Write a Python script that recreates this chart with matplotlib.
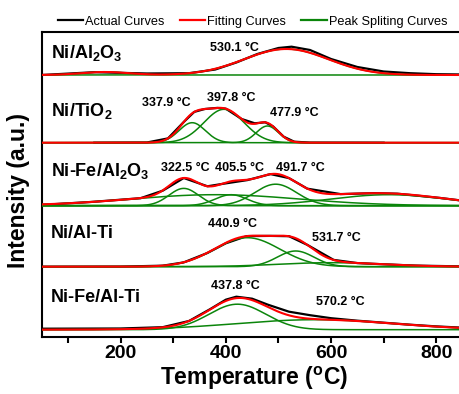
import numpy as np
import matplotlib.pyplot as plt
from matplotlib.lines import Line2D

plt.rcParams['font.family'] = ['Liberation Sans', 'DejaVu Sans']
plt.rcParams['mathtext.fontset'] = 'custom'
plt.rcParams['mathtext.rm'] = 'Liberation Sans:bold'
plt.rcParams['mathtext.it'] = 'Liberation Sans:bold'
plt.rcParams['mathtext.bf'] = 'Liberation Sans:bold'

# sample names (top to bottom)
samples = ['Ni/Al$_2$O$_3$', 'Ni/TiO$_2$', 'Ni-Fe/Al$_2$O$_3$', 'Ni/Al-Ti', 'Ni-Fe/Al-Ti']

# peak splitting components: centre (C), height (a.u.), width (sigma, C)
ni_al2o3_centers = [170, 515]
ni_al2o3_heights = [3, 26]
ni_al2o3_widths = [45, 80]

ni_tio2_centers = [336, 396.5, 479]
ni_tio2_heights = [20, 33.4, 16.7]
ni_tio2_widths = [25, 38, 21]

nife_al2o3_centers = [320, 410, 494.7, 380, 710]
nife_al2o3_heights = [17.3, 11, 21.5, 11, 11]
nife_al2o3_widths = [28, 30, 40, 160, 110]

ni_alti_centers = [440.8, 532.7, 600]
ni_alti_heights = [29, 15.7, 4]
ni_alti_widths = [62, 35, 100]

nife_alti_centers = [422, 570]
nife_alti_heights = [25.5, 10]
nife_alti_widths = [54, 150]

ni_al2o3_T = [50, 150, 250, 330, 380, 420, 460, 500, 525, 560, 600, 650, 700, 750, 800, 850]
ni_al2o3_I = [0, 2.8, 1.5, 1.8, 5.5, 12.5, 21, 27, 28.3, 25, 16, 8, 3.5, 1.8, 0.8, 0.5]

ni_tio2_T = [150, 250, 290, 320, 340, 360, 384, 400, 430, 455, 475, 490, 510, 530, 560, 700]
ni_tio2_I = [0, 0.2, 4.3, 20.7, 30.8, 33.7, 34.8, 34, 23.7, 19.4, 20.4, 16.2, 6, 1, 0.1, 0]

nife_al2o3_T = [50, 143, 238, 280, 320, 365, 396, 441, 485, 520, 555, 618, 682, 726, 808, 850]
nife_al2o3_I = [0.8, 3.7, 7.5, 15, 27.7, 19.4, 22, 25.6, 31.6, 27.6, 17, 11.6, 12.5, 12, 7.7, 5]

ni_alti_T = [50, 200, 280, 320, 365, 400, 440, 485, 520, 555, 605, 650, 700, 760, 850]
ni_alti_I = [0, 0.1, 1, 4.3, 13.7, 23.4, 30.6, 30.8, 30.5, 21.8, 6.8, 3.6, 2.4, 1.1, 0.3]

nife_alti_T = [50, 200, 280, 330, 370, 400, 420, 450, 480, 520, 560, 600, 650, 700, 750, 800, 850]
nife_alti_I = [1, 1.2, 2.5, 8.7, 20.5, 30, 33, 31, 25, 18, 14.5, 11.5, 9, 7, 5, 3.3, 2]

# labelled peak temperatures
ni_al2o3_peaks = [530.1]
ni_tio2_peaks = [337.9, 397.8, 477.9]
nife_al2o3_peaks = [322.5, 405.5, 491.7]
ni_alti_peaks = [440.9, 531.7]
nife_alti_peaks = [437.8, 570.2]

components = [
    (ni_al2o3_centers, ni_al2o3_heights, ni_al2o3_widths),
    (ni_tio2_centers, ni_tio2_heights, ni_tio2_widths),
    (nife_al2o3_centers, nife_al2o3_heights, nife_al2o3_widths),
    (ni_alti_centers, ni_alti_heights, ni_alti_widths),
    (nife_alti_centers, nife_alti_heights, nife_alti_widths),
]
actual = [(ni_al2o3_T, ni_al2o3_I), (ni_tio2_T, ni_tio2_I), (nife_al2o3_T, nife_al2o3_I),
          (ni_alti_T, ni_alti_I), (nife_alti_T, nife_alti_I)]
peaks = [ni_al2o3_peaks, ni_tio2_peaks, nife_al2o3_peaks, ni_alti_peaks, nife_alti_peaks]

# layout: vertical offsets of each trace, label places
offsets = [262, 194.3, 131.3, 70.3, 7.3]
name_y = [278.7, 221, 161, 98.7, 34.7]
peak_pos = [[(415.5, 286.3)],
            [(286, 231), (410.7, 236), (529.6, 221)],
            [(323.6, 166), (425.5, 166), (541, 166)],
            [(412, 109.7), (609.4, 96.3)],
            [(419, 48.3), (618, 31.7)]]

GREEN = '#0b850b'
T = np.linspace(50, 850, 801)

fig = plt.figure(figsize=(4.6, 3.94), dpi=100)
ax = fig.add_axes([0.0907, 0.1447, 0.9148, 0.7741])

for i in range(5):
    off = offsets[i]
    cen, hei, wid = components[i]
    total = np.zeros_like(T)
    for c, h, w in zip(cen, hei, wid):
        g = h * np.exp(-(T - c) ** 2 / (2 * w ** 2))
        total += g
        ax.plot(T, g + off, color=GREEN, lw=1.1, zorder=3)
    at, ai = actual[i]
    ax.plot(at, np.array(ai) + off, color='black', lw=1.6, zorder=2)
    ax.plot(T, total + off, color='red', lw=1.5, zorder=4)

    ax.text(68, name_y[i], samples[i], fontsize=13, fontweight='bold', va='baseline', ha='left')
    for v, (px, py) in zip(peaks[i], peak_pos[i]):
        ax.text(px, py, f'{v:.1f} °C', fontsize=9, fontweight='bold', ha='center', va='baseline')

ax.set_xlim(50, 850)
ax.set_ylim(0, 305)
ax.set_yticks([])
ax.set_xticks([200, 400, 600, 800])
ax.set_xticks([100, 300, 500, 700], minor=True)
ax.tick_params(axis='x', which='both', direction='out', length=4, width=1.5, labelsize=14, pad=2)
for lbl in ax.get_xticklabels():
    lbl.set_fontweight('bold')
for s in ax.spines.values():
    s.set_linewidth(1.5)

ax.set_xlabel(r'Temperature ($^{\mathrm{o}}$C)', fontsize=16.5, fontweight='bold', labelpad=0)
ax.xaxis.set_label_coords(0.5045, -0.09)
ax.set_ylabel('Intensity (a.u.)', fontsize=16.5, fontweight='bold')
ax.yaxis.set_label_coords(-0.028, 0.48)

handles = [Line2D([], [], color='black', lw=1.6),
           Line2D([], [], color='red', lw=1.6),
           Line2D([], [], color=GREEN, lw=1.6)]
fig.legend(handles, ['Actual Curves', 'Fitting Curves', 'Peak Spliting Curves'],
           loc='center', bbox_to_anchor=(0.549, 0.945), ncol=3, frameon=False,
           fontsize=9.2, handlelength=2.0, handletextpad=0.15, columnspacing=1.2,
           borderpad=0, borderaxespad=0)

fig.savefig('out.png', dpi=100)
